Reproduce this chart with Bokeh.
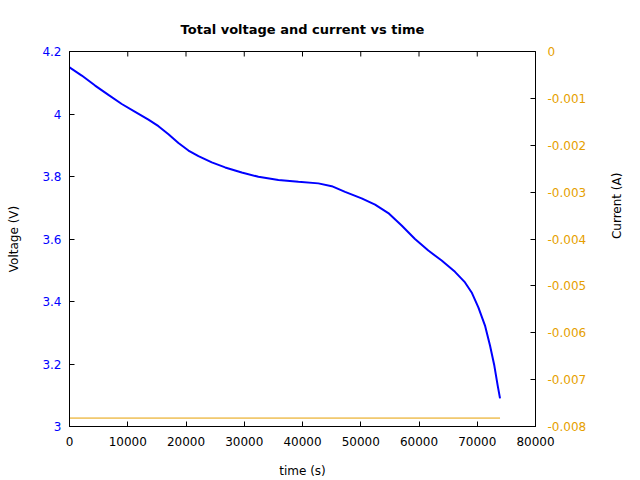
import math
from bokeh.plotting import figure
from bokeh.models import Range1d, LinearAxis, FixedTicker, CustomJSTickFormatter
from bokeh.embed import file_html
from bokeh.resources import INLINE

# Data
time_s = [0, 2105, 4394, 6682, 8970, 11270, 13550, 15270, 16990, 18700,
          20420, 22140, 24430, 26720, 29570, 32430, 35870, 39300, 42730, 45020,
          47310, 50150, 52460, 54730, 57020, 59310, 61600, 63890, 66180, 67900,
          69040, 70190, 71330, 72190, 72930, 73510, 73910]
voltage_v = [4.149, 4.123, 4.091, 4.061, 4.032, 4.007, 3.982, 3.961, 3.935, 3.907,
             3.883, 3.865, 3.845, 3.829, 3.813, 3.799, 3.789, 3.783, 3.778, 3.769,
             3.751, 3.730, 3.710, 3.683, 3.643, 3.600, 3.563, 3.531, 3.495, 3.461,
             3.429, 3.381, 3.323, 3.259, 3.195, 3.131, 3.090]
current_t = [0, 73910]
current_a = [-0.00782, -0.00782]

x_ticks = [0, 10000, 20000, 30000, 40000, 50000, 60000, 70000, 80000]
v_ticks = [3.0, 3.2, 3.4, 3.6, 3.8, 4.0, 4.2]
i_ticks = [0, -0.001, -0.002, -0.003, -0.004, -0.005, -0.006, -0.007, -0.008]

BLUE = "#0000ff"
ORANGE = "#e69f00"
FONT = "DejaVu Sans"
TICK_FS = "12px"

p = figure(width=640, height=480, output_backend="svg", toolbar_location=None,
           x_range=Range1d(0, 80000), y_range=Range1d(3.0, 4.2),
           min_border_left=69, min_border_right=105, min_border_top=51, min_border_bottom=54)
p.extra_y_ranges = {"cur": Range1d(-0.008, 0)}

p.title.text = "Total voltage and current vs time"
p.title.align = "center"
p.title.text_font = FONT
p.title.text_font_size = "13px"
p.title.text_font_style = "bold"
p.title.text_color = "black"
p.title.standoff = 30

p.grid.visible = False
p.outline_line_color = "black"
p.outline_line_width = 1
p.background_fill_color = "white"
p.border_fill_color = "white"

def style(ax, color):
    ax.major_tick_in = 5
    ax.major_tick_out = 0
    ax.minor_tick_in = 0
    ax.minor_tick_out = 0
    ax.axis_line_color = "black"
    ax.major_tick_line_color = "black"
    ax.major_label_text_color = color
    ax.major_label_text_font = FONT
    ax.major_label_text_font_size = TICK_FS
    ax.axis_label_text_font = FONT
    ax.axis_label_text_font_size = "12px"
    ax.axis_label_text_font_style = "normal"
    ax.axis_label_text_color = "black"

# bottom axis
xa = p.xaxis[0]
style(xa, "black")
xa.ticker = FixedTicker(ticks=x_ticks)
xa.formatter = CustomJSTickFormatter(code="return String(Math.round(tick));")
xa.axis_label = "time (s)"
xa.major_label_standoff = 10
xa.axis_label_standoff = 15

# left axis
ya = p.yaxis[0]
style(ya, BLUE)
ya.ticker = FixedTicker(ticks=v_ticks)
ya.formatter = CustomJSTickFormatter(code="return String(Math.round(tick*10)/10);")
ya.axis_label = "Voltage (V)"
ya.major_label_standoff = 8
ya.axis_label_standoff = 18

# right axis (current)
ra = LinearAxis(y_range_name="cur")
style(ra, ORANGE)
ra.ticker = FixedTicker(ticks=i_ticks)
ra.formatter = CustomJSTickFormatter(code="""
const v = Math.round(tick*1000)/1000;
return v == 0 ? "0" : v.toFixed(3);
""")
ra.axis_label = "Current (A)"
ra.axis_label_orientation = math.pi / 2
ra.major_label_standoff = 12
ra.axis_label_standoff = 28
p.add_layout(ra, "right")

# inward tick marks along the top edge
p.ray(x=x_ticks, y=[4.2] * len(x_ticks), length=5, length_units="screen",
      angle=-math.pi / 2, line_color="black", line_width=1)

p.line(current_t, current_a, y_range_name="cur", line_color=ORANGE, line_width=1)
p.line(time_s, voltage_v, line_color=BLUE, line_width=2)

open("out.html", "w").write(file_html(p, INLINE))
